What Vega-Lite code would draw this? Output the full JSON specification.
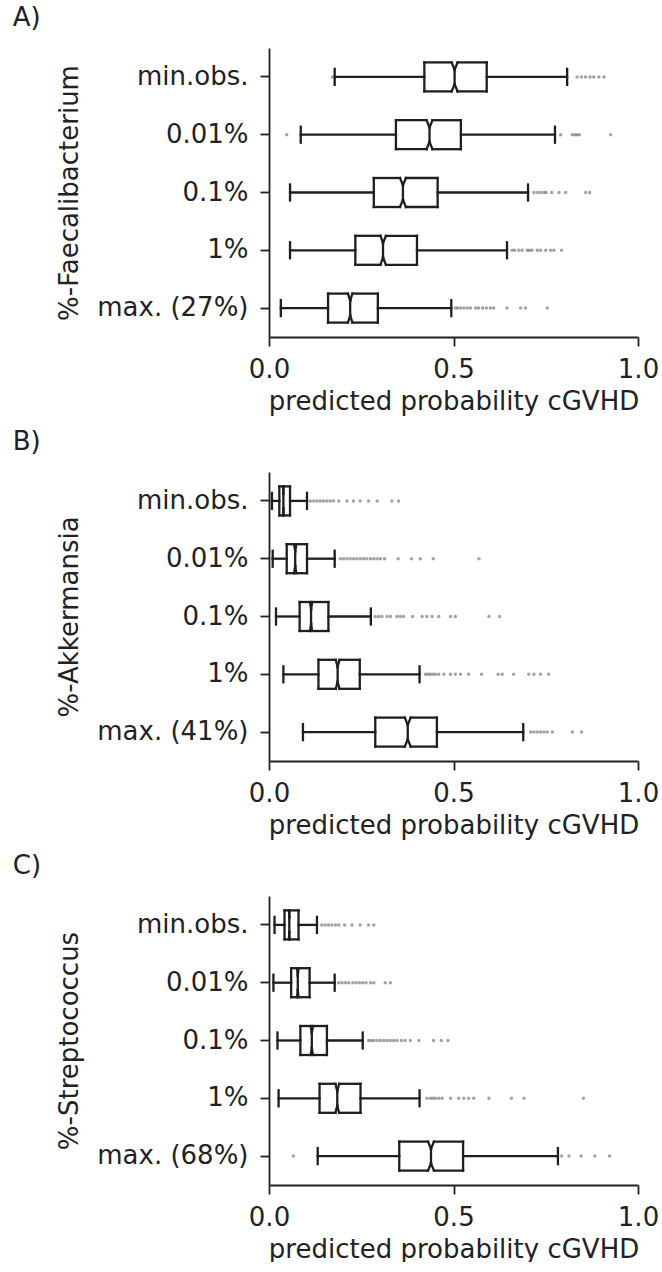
{
"$schema": "https://vega.github.io/schema/vega-lite/v6.json",
"padding": {"left": 12, "top": 5, "right": 0, "bottom": 0},
"spacing": 15,
"config": {
  "view": {"stroke": null},
  "font": "DejaVu Sans",
  "axis": {"grid": false, "domainColor": "#222", "domainWidth": 1.8, "tickColor": "#222", "tickWidth": 1.8, "tickSize": 9, "labelFont": "DejaVu Sans", "labelFontSize": 26, "labelColor": "#222", "titleFont": "DejaVu Sans", "titleFontSize": 26, "titleFontWeight": "normal", "titleColor": "#222", "labelFlush": false, "labelOverlap": false, "labelBound": false},
  "axisY": {"labelPadding": 12, "titlePadding": 14},
  "axisX": {"labelPadding": 10, "titlePadding": 6},
  "rule": {"stroke": "#1e1e1e", "strokeWidth": 2.3, "strokeCap": "square"},
  "title": {"anchor": "start", "frame": "bounds", "dx": -44, "offset": 17, "fontSize": 26, "font": "DejaVu Sans", "fontWeight": "normal", "color": "#222"}
},
"datasets": {
  "statsA": [
    {"level": "min.obs.", "wlo": 0.178, "q1": 0.421, "nlo": 0.495, "med": 0.503, "nhi": 0.511, "q3": 0.590, "whi": 0.808},
    {"level": "0.01%", "wlo": 0.086, "q1": 0.344, "nlo": 0.427, "med": 0.435, "nhi": 0.443, "q3": 0.520, "whi": 0.775},
    {"level": "0.1%", "wlo": 0.057, "q1": 0.284, "nlo": 0.355, "med": 0.363, "nhi": 0.371, "q3": 0.457, "whi": 0.702},
    {"level": "1%", "wlo": 0.057, "q1": 0.234, "nlo": 0.302, "med": 0.309, "nhi": 0.317, "q3": 0.401, "whi": 0.645},
    {"level": "max. (27%)", "wlo": 0.032, "q1": 0.160, "nlo": 0.214, "med": 0.220, "nhi": 0.226, "q3": 0.295, "whi": 0.494}
  ],
  "statsB": [
    {"level": "min.obs.", "wlo": 0.008, "q1": 0.028, "nlo": 0.038, "med": 0.039, "nhi": 0.040, "q3": 0.057, "whi": 0.103},
    {"level": "0.01%", "wlo": 0.010, "q1": 0.048, "nlo": 0.068, "med": 0.071, "nhi": 0.074, "q3": 0.103, "whi": 0.178},
    {"level": "0.1%", "wlo": 0.019, "q1": 0.083, "nlo": 0.111, "med": 0.114, "nhi": 0.117, "q3": 0.161, "whi": 0.276},
    {"level": "1%", "wlo": 0.039, "q1": 0.134, "nlo": 0.181, "med": 0.186, "nhi": 0.191, "q3": 0.246, "whi": 0.408},
    {"level": "max. (41%)", "wlo": 0.092, "q1": 0.288, "nlo": 0.368, "med": 0.376, "nhi": 0.384, "q3": 0.455, "whi": 0.689}
  ],
  "statsC": [
    {"level": "min.obs.", "wlo": 0.015, "q1": 0.042, "nlo": 0.054, "med": 0.055, "nhi": 0.056, "q3": 0.080, "whi": 0.130},
    {"level": "0.01%", "wlo": 0.012, "q1": 0.060, "nlo": 0.076, "med": 0.078, "nhi": 0.080, "q3": 0.110, "whi": 0.178},
    {"level": "0.1%", "wlo": 0.023, "q1": 0.085, "nlo": 0.113, "med": 0.116, "nhi": 0.119, "q3": 0.157, "whi": 0.254},
    {"level": "1%", "wlo": 0.026, "q1": 0.137, "nlo": 0.180, "med": 0.185, "nhi": 0.190, "q3": 0.248, "whi": 0.408},
    {"level": "max. (68%)", "wlo": 0.132, "q1": 0.353, "nlo": 0.431, "med": 0.439, "nhi": 0.447, "q3": 0.526, "whi": 0.783}
  ],
  "outA": [
    {"level": "min.obs.", "p": 0.172}, {"level": "min.obs.", "p": 0.835}, {"level": "min.obs.", "p": 0.847}, {"level": "min.obs.", "p": 0.858}, {"level": "min.obs.", "p": 0.870}, {"level": "min.obs.", "p": 0.880}, {"level": "min.obs.", "p": 0.894}, {"level": "min.obs.", "p": 0.908},
    {"level": "0.01%", "p": 0.048}, {"level": "0.01%", "p": 0.790}, {"level": "0.01%", "p": 0.822}, {"level": "0.01%", "p": 0.829}, {"level": "0.01%", "p": 0.835}, {"level": "0.01%", "p": 0.841}, {"level": "0.01%", "p": 0.926},
    {"level": "0.1%", "p": 0.718}, {"level": "0.1%", "p": 0.727}, {"level": "0.1%", "p": 0.736}, {"level": "0.1%", "p": 0.745}, {"level": "0.1%", "p": 0.751}, {"level": "0.1%", "p": 0.766}, {"level": "0.1%", "p": 0.786}, {"level": "0.1%", "p": 0.804}, {"level": "0.1%", "p": 0.858}, {"level": "0.1%", "p": 0.869},
    {"level": "1%", "p": 0.659}, {"level": "1%", "p": 0.666}, {"level": "1%", "p": 0.677}, {"level": "1%", "p": 0.686}, {"level": "1%", "p": 0.700}, {"level": "1%", "p": 0.706}, {"level": "1%", "p": 0.713}, {"level": "1%", "p": 0.727}, {"level": "1%", "p": 0.736}, {"level": "1%", "p": 0.750}, {"level": "1%", "p": 0.763}, {"level": "1%", "p": 0.772}, {"level": "1%", "p": 0.793},
    {"level": "max. (27%)", "p": 0.505}, {"level": "max. (27%)", "p": 0.511}, {"level": "max. (27%)", "p": 0.519}, {"level": "max. (27%)", "p": 0.528}, {"level": "max. (27%)", "p": 0.537}, {"level": "max. (27%)", "p": 0.546}, {"level": "max. (27%)", "p": 0.560}, {"level": "max. (27%)", "p": 0.568}, {"level": "max. (27%)", "p": 0.579}, {"level": "max. (27%)", "p": 0.589}, {"level": "max. (27%)", "p": 0.600}, {"level": "max. (27%)", "p": 0.609}, {"level": "max. (27%)", "p": 0.645}, {"level": "max. (27%)", "p": 0.682}, {"level": "max. (27%)", "p": 0.695}, {"level": "max. (27%)", "p": 0.754}
  ],
  "outB": [
    {"level": "min.obs.", "p": 0.112}, {"level": "min.obs.", "p": 0.121}, {"level": "min.obs.", "p": 0.130}, {"level": "min.obs.", "p": 0.139}, {"level": "min.obs.", "p": 0.148}, {"level": "min.obs.", "p": 0.157}, {"level": "min.obs.", "p": 0.166}, {"level": "min.obs.", "p": 0.175}, {"level": "min.obs.", "p": 0.189}, {"level": "min.obs.", "p": 0.211}, {"level": "min.obs.", "p": 0.229}, {"level": "min.obs.", "p": 0.247}, {"level": "min.obs.", "p": 0.270}, {"level": "min.obs.", "p": 0.293}, {"level": "min.obs.", "p": 0.333}, {"level": "min.obs.", "p": 0.351},
    {"level": "0.01%", "p": 0.193}, {"level": "0.01%", "p": 0.202}, {"level": "0.01%", "p": 0.211}, {"level": "0.01%", "p": 0.220}, {"level": "0.01%", "p": 0.229}, {"level": "0.01%", "p": 0.238}, {"level": "0.01%", "p": 0.247}, {"level": "0.01%", "p": 0.256}, {"level": "0.01%", "p": 0.265}, {"level": "0.01%", "p": 0.275}, {"level": "0.01%", "p": 0.284}, {"level": "0.01%", "p": 0.293}, {"level": "0.01%", "p": 0.302}, {"level": "0.01%", "p": 0.313}, {"level": "0.01%", "p": 0.350}, {"level": "0.01%", "p": 0.386}, {"level": "0.01%", "p": 0.410}, {"level": "0.01%", "p": 0.445}, {"level": "0.01%", "p": 0.569},
    {"level": "0.1%", "p": 0.288}, {"level": "0.1%", "p": 0.297}, {"level": "0.1%", "p": 0.306}, {"level": "0.1%", "p": 0.320}, {"level": "0.1%", "p": 0.329}, {"level": "0.1%", "p": 0.347}, {"level": "0.1%", "p": 0.356}, {"level": "0.1%", "p": 0.365}, {"level": "0.1%", "p": 0.389}, {"level": "0.1%", "p": 0.415}, {"level": "0.1%", "p": 0.428}, {"level": "0.1%", "p": 0.442}, {"level": "0.1%", "p": 0.460}, {"level": "0.1%", "p": 0.492}, {"level": "0.1%", "p": 0.505}, {"level": "0.1%", "p": 0.596}, {"level": "0.1%", "p": 0.625},
    {"level": "1%", "p": 0.424}, {"level": "1%", "p": 0.431}, {"level": "1%", "p": 0.437}, {"level": "1%", "p": 0.444}, {"level": "1%", "p": 0.451}, {"level": "1%", "p": 0.460}, {"level": "1%", "p": 0.474}, {"level": "1%", "p": 0.492}, {"level": "1%", "p": 0.505}, {"level": "1%", "p": 0.519}, {"level": "1%", "p": 0.541}, {"level": "1%", "p": 0.576}, {"level": "1%", "p": 0.621}, {"level": "1%", "p": 0.632}, {"level": "1%", "p": 0.663}, {"level": "1%", "p": 0.704}, {"level": "1%", "p": 0.718}, {"level": "1%", "p": 0.736}, {"level": "1%", "p": 0.758},
    {"level": "max. (41%)", "p": 0.709}, {"level": "max. (41%)", "p": 0.718}, {"level": "max. (41%)", "p": 0.727}, {"level": "max. (41%)", "p": 0.736}, {"level": "max. (41%)", "p": 0.745}, {"level": "max. (41%)", "p": 0.754}, {"level": "max. (41%)", "p": 0.768}, {"level": "max. (41%)", "p": 0.822}, {"level": "max. (41%)", "p": 0.847}
  ],
  "outC": [
    {"level": "min.obs.", "p": 0.143}, {"level": "min.obs.", "p": 0.152}, {"level": "min.obs.", "p": 0.161}, {"level": "min.obs.", "p": 0.170}, {"level": "min.obs.", "p": 0.180}, {"level": "min.obs.", "p": 0.189}, {"level": "min.obs.", "p": 0.205}, {"level": "min.obs.", "p": 0.225}, {"level": "min.obs.", "p": 0.247}, {"level": "min.obs.", "p": 0.270}, {"level": "min.obs.", "p": 0.284},
    {"level": "0.01%", "p": 0.189}, {"level": "0.01%", "p": 0.198}, {"level": "0.01%", "p": 0.207}, {"level": "0.01%", "p": 0.216}, {"level": "0.01%", "p": 0.227}, {"level": "0.01%", "p": 0.236}, {"level": "0.01%", "p": 0.245}, {"level": "0.01%", "p": 0.254}, {"level": "0.01%", "p": 0.263}, {"level": "0.01%", "p": 0.275}, {"level": "0.01%", "p": 0.284}, {"level": "0.01%", "p": 0.315}, {"level": "0.01%", "p": 0.329},
    {"level": "0.1%", "p": 0.270}, {"level": "0.1%", "p": 0.277}, {"level": "0.1%", "p": 0.284}, {"level": "0.1%", "p": 0.293}, {"level": "0.1%", "p": 0.302}, {"level": "0.1%", "p": 0.311}, {"level": "0.1%", "p": 0.320}, {"level": "0.1%", "p": 0.329}, {"level": "0.1%", "p": 0.338}, {"level": "0.1%", "p": 0.347}, {"level": "0.1%", "p": 0.359}, {"level": "0.1%", "p": 0.369}, {"level": "0.1%", "p": 0.383}, {"level": "0.1%", "p": 0.406}, {"level": "0.1%", "p": 0.446}, {"level": "0.1%", "p": 0.467}, {"level": "0.1%", "p": 0.485},
    {"level": "1%", "p": 0.428}, {"level": "1%", "p": 0.437}, {"level": "1%", "p": 0.444}, {"level": "1%", "p": 0.451}, {"level": "1%", "p": 0.460}, {"level": "1%", "p": 0.469}, {"level": "1%", "p": 0.492}, {"level": "1%", "p": 0.514}, {"level": "1%", "p": 0.528}, {"level": "1%", "p": 0.541}, {"level": "1%", "p": 0.555}, {"level": "1%", "p": 0.596}, {"level": "1%", "p": 0.657}, {"level": "1%", "p": 0.691}, {"level": "1%", "p": 0.852},
    {"level": "max. (68%)", "p": 0.066}, {"level": "max. (68%)", "p": 0.793}, {"level": "max. (68%)", "p": 0.813}, {"level": "max. (68%)", "p": 0.846}, {"level": "max. (68%)", "p": 0.883}, {"level": "max. (68%)", "p": 0.923}
  ]
},
"vconcat": [
  {
    "title": {"text": "A)"},
    "width": 369, "height": 289,
    "data": {"name": "statsA"},
    "encoding": {"y": {"field": "level", "type": "nominal", "scale": {"type": "band", "domain": ["min.obs.", "0.01%", "0.1%", "1%", "max. (27%)"], "paddingInner": 0, "paddingOuter": 0}, "axis": {"title": "%-Faecalibacterium"}}},
    "layer": [
      {"mark": "rule", "encoding": {"x": {"field": "wlo", "type": "quantitative", "scale": {"domain": [0, 1], "nice": false, "zero": false}, "axis": {"values": [0, 0.5, 1], "format": ".1f", "title": "predicted probability cGVHD"}}, "x2": {"field": "q1"}}},
      {"mark": "rule", "encoding": {"x": {"field": "q3", "type": "quantitative"}, "x2": {"field": "whi"}}},
      {"mark": {"type": "rule", "yOffset": -8, "y2Offset": 8}, "encoding": {"x": {"field": "wlo", "type": "quantitative"}, "y2": {"field": "level"}}},
      {"mark": {"type": "rule", "yOffset": -8, "y2Offset": 8}, "encoding": {"x": {"field": "whi", "type": "quantitative"}, "y2": {"field": "level"}}},
      {"mark": {"type": "rule", "yOffset": -14.5, "y2Offset": 14.5}, "encoding": {"x": {"field": "q1", "type": "quantitative"}, "y2": {"field": "level"}}},
      {"mark": {"type": "rule", "yOffset": -14.5, "y2Offset": 14.5}, "encoding": {"x": {"field": "q3", "type": "quantitative"}, "y2": {"field": "level"}}},
      {"mark": {"type": "rule", "yOffset": -14.5}, "encoding": {"x": {"field": "q1", "type": "quantitative"}, "x2": {"field": "nlo"}}},
      {"mark": {"type": "rule", "yOffset": -14.5}, "encoding": {"x": {"field": "nhi", "type": "quantitative"}, "x2": {"field": "q3"}}},
      {"mark": {"type": "rule", "yOffset": 14.5}, "encoding": {"x": {"field": "q1", "type": "quantitative"}, "x2": {"field": "nlo"}}},
      {"mark": {"type": "rule", "yOffset": 14.5}, "encoding": {"x": {"field": "nhi", "type": "quantitative"}, "x2": {"field": "q3"}}},
      {"mark": {"type": "rule", "yOffset": -14.5, "y2Offset": -7.25}, "encoding": {"x": {"field": "nlo", "type": "quantitative"}, "x2": {"field": "med"}, "y2": {"field": "level"}}},
      {"mark": {"type": "rule", "yOffset": -7.25, "y2Offset": -14.5}, "encoding": {"x": {"field": "med", "type": "quantitative"}, "x2": {"field": "nhi"}, "y2": {"field": "level"}}},
      {"mark": {"type": "rule", "yOffset": 14.5, "y2Offset": 7.25}, "encoding": {"x": {"field": "nlo", "type": "quantitative"}, "x2": {"field": "med"}, "y2": {"field": "level"}}},
      {"mark": {"type": "rule", "yOffset": 7.25, "y2Offset": 14.5}, "encoding": {"x": {"field": "med", "type": "quantitative"}, "x2": {"field": "nhi"}, "y2": {"field": "level"}}},
      {"mark": {"type": "rule", "yOffset": -7.25, "y2Offset": 7.25}, "encoding": {"x": {"field": "med", "type": "quantitative"}, "y2": {"field": "level"}}},
      {"data": {"name": "outA"}, "mark": {"type": "point", "filled": true, "size": 12, "color": "#666", "opacity": 0.6}, "encoding": {"x": {"field": "p", "type": "quantitative"}}}
    ]
  },
  {
    "title": {"text": "B)"},
    "width": 369, "height": 289,
    "data": {"name": "statsB"},
    "encoding": {"y": {"field": "level", "type": "nominal", "scale": {"type": "band", "domain": ["min.obs.", "0.01%", "0.1%", "1%", "max. (41%)"], "paddingInner": 0, "paddingOuter": 0}, "axis": {"title": "%-Akkermansia"}}},
    "layer": [
      {"mark": "rule", "encoding": {"x": {"field": "wlo", "type": "quantitative", "scale": {"domain": [0, 1], "nice": false, "zero": false}, "axis": {"values": [0, 0.5, 1], "format": ".1f", "title": "predicted probability cGVHD"}}, "x2": {"field": "q1"}}},
      {"mark": "rule", "encoding": {"x": {"field": "q3", "type": "quantitative"}, "x2": {"field": "whi"}}},
      {"mark": {"type": "rule", "yOffset": -8, "y2Offset": 8}, "encoding": {"x": {"field": "wlo", "type": "quantitative"}, "y2": {"field": "level"}}},
      {"mark": {"type": "rule", "yOffset": -8, "y2Offset": 8}, "encoding": {"x": {"field": "whi", "type": "quantitative"}, "y2": {"field": "level"}}},
      {"mark": {"type": "rule", "yOffset": -14.5, "y2Offset": 14.5}, "encoding": {"x": {"field": "q1", "type": "quantitative"}, "y2": {"field": "level"}}},
      {"mark": {"type": "rule", "yOffset": -14.5, "y2Offset": 14.5}, "encoding": {"x": {"field": "q3", "type": "quantitative"}, "y2": {"field": "level"}}},
      {"mark": {"type": "rule", "yOffset": -14.5}, "encoding": {"x": {"field": "q1", "type": "quantitative"}, "x2": {"field": "nlo"}}},
      {"mark": {"type": "rule", "yOffset": -14.5}, "encoding": {"x": {"field": "nhi", "type": "quantitative"}, "x2": {"field": "q3"}}},
      {"mark": {"type": "rule", "yOffset": 14.5}, "encoding": {"x": {"field": "q1", "type": "quantitative"}, "x2": {"field": "nlo"}}},
      {"mark": {"type": "rule", "yOffset": 14.5}, "encoding": {"x": {"field": "nhi", "type": "quantitative"}, "x2": {"field": "q3"}}},
      {"mark": {"type": "rule", "yOffset": -14.5, "y2Offset": -7.25}, "encoding": {"x": {"field": "nlo", "type": "quantitative"}, "x2": {"field": "med"}, "y2": {"field": "level"}}},
      {"mark": {"type": "rule", "yOffset": -7.25, "y2Offset": -14.5}, "encoding": {"x": {"field": "med", "type": "quantitative"}, "x2": {"field": "nhi"}, "y2": {"field": "level"}}},
      {"mark": {"type": "rule", "yOffset": 14.5, "y2Offset": 7.25}, "encoding": {"x": {"field": "nlo", "type": "quantitative"}, "x2": {"field": "med"}, "y2": {"field": "level"}}},
      {"mark": {"type": "rule", "yOffset": 7.25, "y2Offset": 14.5}, "encoding": {"x": {"field": "med", "type": "quantitative"}, "x2": {"field": "nhi"}, "y2": {"field": "level"}}},
      {"mark": {"type": "rule", "yOffset": -7.25, "y2Offset": 7.25}, "encoding": {"x": {"field": "med", "type": "quantitative"}, "y2": {"field": "level"}}},
      {"data": {"name": "outB"}, "mark": {"type": "point", "filled": true, "size": 12, "color": "#666", "opacity": 0.6}, "encoding": {"x": {"field": "p", "type": "quantitative"}}}
    ]
  },
  {
    "title": {"text": "C)"},
    "width": 369, "height": 289,
    "data": {"name": "statsC"},
    "encoding": {"y": {"field": "level", "type": "nominal", "scale": {"type": "band", "domain": ["min.obs.", "0.01%", "0.1%", "1%", "max. (68%)"], "paddingInner": 0, "paddingOuter": 0}, "axis": {"title": "%-Streptococcus"}}},
    "layer": [
      {"mark": "rule", "encoding": {"x": {"field": "wlo", "type": "quantitative", "scale": {"domain": [0, 1], "nice": false, "zero": false}, "axis": {"values": [0, 0.5, 1], "format": ".1f", "title": "predicted probability cGVHD"}}, "x2": {"field": "q1"}}},
      {"mark": "rule", "encoding": {"x": {"field": "q3", "type": "quantitative"}, "x2": {"field": "whi"}}},
      {"mark": {"type": "rule", "yOffset": -8, "y2Offset": 8}, "encoding": {"x": {"field": "wlo", "type": "quantitative"}, "y2": {"field": "level"}}},
      {"mark": {"type": "rule", "yOffset": -8, "y2Offset": 8}, "encoding": {"x": {"field": "whi", "type": "quantitative"}, "y2": {"field": "level"}}},
      {"mark": {"type": "rule", "yOffset": -14.5, "y2Offset": 14.5}, "encoding": {"x": {"field": "q1", "type": "quantitative"}, "y2": {"field": "level"}}},
      {"mark": {"type": "rule", "yOffset": -14.5, "y2Offset": 14.5}, "encoding": {"x": {"field": "q3", "type": "quantitative"}, "y2": {"field": "level"}}},
      {"mark": {"type": "rule", "yOffset": -14.5}, "encoding": {"x": {"field": "q1", "type": "quantitative"}, "x2": {"field": "nlo"}}},
      {"mark": {"type": "rule", "yOffset": -14.5}, "encoding": {"x": {"field": "nhi", "type": "quantitative"}, "x2": {"field": "q3"}}},
      {"mark": {"type": "rule", "yOffset": 14.5}, "encoding": {"x": {"field": "q1", "type": "quantitative"}, "x2": {"field": "nlo"}}},
      {"mark": {"type": "rule", "yOffset": 14.5}, "encoding": {"x": {"field": "nhi", "type": "quantitative"}, "x2": {"field": "q3"}}},
      {"mark": {"type": "rule", "yOffset": -14.5, "y2Offset": -7.25}, "encoding": {"x": {"field": "nlo", "type": "quantitative"}, "x2": {"field": "med"}, "y2": {"field": "level"}}},
      {"mark": {"type": "rule", "yOffset": -7.25, "y2Offset": -14.5}, "encoding": {"x": {"field": "med", "type": "quantitative"}, "x2": {"field": "nhi"}, "y2": {"field": "level"}}},
      {"mark": {"type": "rule", "yOffset": 14.5, "y2Offset": 7.25}, "encoding": {"x": {"field": "nlo", "type": "quantitative"}, "x2": {"field": "med"}, "y2": {"field": "level"}}},
      {"mark": {"type": "rule", "yOffset": 7.25, "y2Offset": 14.5}, "encoding": {"x": {"field": "med", "type": "quantitative"}, "x2": {"field": "nhi"}, "y2": {"field": "level"}}},
      {"mark": {"type": "rule", "yOffset": -7.25, "y2Offset": 7.25}, "encoding": {"x": {"field": "med", "type": "quantitative"}, "y2": {"field": "level"}}},
      {"data": {"name": "outC"}, "mark": {"type": "point", "filled": true, "size": 12, "color": "#666", "opacity": 0.6}, "encoding": {"x": {"field": "p", "type": "quantitative"}}}
    ]
  }
]
}
